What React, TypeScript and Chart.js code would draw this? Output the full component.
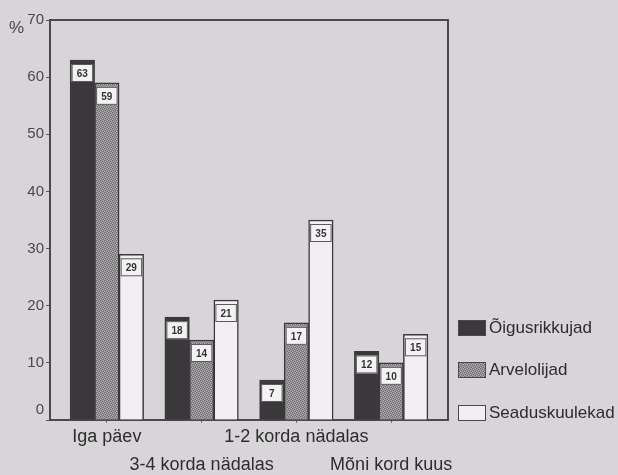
import React, { useEffect, useRef } from 'react';
import { Chart, registerables } from 'chart.js';

Chart.register(...registerables);

const categories = ['Iga päev', '3-4 korda nädalas', '1-2 korda nädalas', 'Mõni kord kuus'];
const seriesNames = ['Õigusrikkujad', 'Arvelolijad', 'Seaduskuulekad'];
const oigusrikkujad = [63, 18, 7, 12];
const arvelolijad = [59, 14, 17, 10];
const seaduskuulekad = [29, 21, 35, 15];
const yMin = 0;
const yMax = 70;
const yStep = 10;

const BG = '#d7d5d7';
const INK = '#3a383a';
const FONT = '"Liberation Sans", Arial, Helvetica, sans-serif';

function makeStipple(): CanvasPattern | string {
  const c = document.createElement('canvas');
  c.width = 4;
  c.height = 4;
  const g = c.getContext('2d');
  if (!g) return '#8e8c8e';
  g.fillStyle = '#908e90';
  g.fillRect(0, 0, 4, 4);
  g.fillStyle = '#6c6a6c';
  [[0, 0], [2, 1], [1, 2], [3, 3]].forEach(([x, y]) => g.fillRect(x, y, 1, 1));
  g.fillStyle = '#b2b0b2';
  [[2, 2], [0, 3], [3, 0], [1, 1]].forEach(([x, y]) => g.fillRect(x, y, 1, 1));
  return g.createPattern(c, 'repeat') || '#8e8c8e';
}

export default function App() {
  const ref = useRef<HTMLCanvasElement | null>(null);

  useEffect(() => {
    if (!ref.current) return;
    const stipple = makeStipple();
    const fills = [INK, stipple, '#f1eff1'];
    const values = [oigusrikkujad, arvelolijad, seaduskuulekad];

    const decor = {
      id: 'decor',
      beforeDraw(chart: any) {
        const ctx = chart.ctx;
        ctx.save();
        ctx.fillStyle = BG;
        ctx.fillRect(0, 0, chart.width, chart.height);
        ctx.restore();
      },
      afterDatasetsDraw(chart: any) {
        const ctx = chart.ctx;
        ctx.save();
        chart.data.datasets.forEach((ds: any, di: number) => {
          const meta = chart.getDatasetMeta(di);
          meta.data.forEach((el: any, i: number) => {
            const w = el.width;
            const x0 = el.x - w / 2 + 1.5;
            const y0 = el.y + 4;
            const bw = w - 3;
            const bh = 18;
            ctx.fillStyle = '#f3f1f3';
            ctx.fillRect(x0, y0, bw, bh);
            ctx.strokeStyle = '#5a585a';
            ctx.lineWidth = 1;
            ctx.strokeRect(x0 + 0.5, y0 + 0.5, bw - 1, bh - 1);
            ctx.fillStyle = '#333';
            ctx.font = `bold 10px ${FONT}`;
            ctx.textAlign = 'center';
            ctx.textBaseline = 'middle';
            ctx.fillText(String(ds.data[i].y), el.x, y0 + bh / 2 + 1);
          });
        });
        ctx.restore();
      },
      afterDraw(chart: any) {
        const ctx = chart.ctx;
        const a = chart.chartArea;
        const ys = chart.scales.y;
        ctx.save();
        ctx.strokeStyle = '#4a484a';
        ctx.lineWidth = 2;
        ctx.beginPath();
        ctx.moveTo(a.left, a.top);
        ctx.lineTo(a.right, a.top);
        ctx.lineTo(a.right, a.bottom);
        ctx.stroke();

        ctx.fillStyle = '#4a484a';
        ctx.font = `17px ${FONT}`;
        ctx.textAlign = 'left';
        ctx.textBaseline = 'middle';
        ctx.fillText('%', 9, ys.getPixelForValue(yMax) + 8);

        ctx.font = `15px ${FONT}`;
        ctx.textAlign = 'right';
        ctx.fillText(String(yMin), a.left - 6, ys.getPixelForValue(yMin) - 10);

        // legend
        const lx = a.right + 10;
        const rowY = [328, 370, 413];
        seriesNames.forEach((name, i) => {
          const cy = rowY[i];
          ctx.fillStyle = fills[i] as any;
          ctx.fillRect(lx, cy - 8, 28, 16);
          ctx.strokeStyle = '#4a484a';
          ctx.lineWidth = 1;
          ctx.strokeRect(lx + 0.5, cy - 7.5, 27, 15);
          ctx.fillStyle = '#2e2c2e';
          ctx.font = `17px ${FONT}`;
          ctx.textAlign = 'left';
          ctx.textBaseline = 'middle';
          ctx.fillText(name, lx + 31, cy);
        });
        ctx.restore();
      },
    };

    const chart = new Chart(ref.current, {
      type: 'bar',
      data: {
        datasets: seriesNames.map((name, di) => ({
          label: name,
          data: values[di].map((v, i) => ({ x: i, y: v })),
          backgroundColor: fills[di] as any,
          borderColor: '#3a383a',
          borderWidth: 1.5,
          borderSkipped: 'bottom' as const,
          barThickness: 24.5,
        })),
      },
      options: {
        animation: false,
        responsive: false,
        maintainAspectRatio: false,
        layout: { padding: { top: 20, right: 170, left: 0, bottom: 0 } },
        plugins: { legend: { display: false }, tooltip: { enabled: false } },
        scales: {
          x: {
            type: 'linear',
            min: -0.6,
            max: 3.6,
            offset: false,
            afterBuildTicks: (scale: any) => {
              scale.ticks = categories.map((_, i) => ({ value: i }));
            },
            afterFit: (scale: any) => {
              scale.height = 55;
            },
            grid: {
              display: true,
              offset: false,
              drawOnChartArea: false,
              drawTicks: true,
              tickLength: 3,
              tickColor: '#6a686a',
            },
            border: { display: true, color: '#4a484a', width: 2 },
            ticks: {
              autoSkip: false,
              maxRotation: 0,
              padding: 0,
              color: '#2e2c2e',
              font: { family: FONT, size: 18, lineHeight: 1.556 },
              callback: (v: any) => {
                const i = Math.round(Number(v));
                const t = categories[i] ?? '';
                return i % 2 === 0 ? [t, ''] : ['', t];
              },
            },
          },
          y: {
            min: yMin,
            max: yMax,
            afterFit: (scale: any) => {
              scale.width = 50;
            },
            grid: {
              display: true,
              drawOnChartArea: false,
              drawTicks: true,
              tickLength: 4,
              tickColor: '#5a585a',
            },
            border: { display: true, color: '#4a484a', width: 2 },
            ticks: {
              stepSize: yStep,
              padding: 2,
              color: '#4a484a',
              font: { family: FONT, size: 15 },
              callback: (v: any) => (Number(v) === yMin ? '' : String(v)),
            },
          },
        },
      },
      plugins: [decor],
    });

    return () => chart.destroy();
  }, []);

  return (
    <div style={{ position: 'fixed', left: 0, top: 0, width: 618, height: 475, background: BG }}>
      <canvas ref={ref} width={618} height={475} style={{ width: 618, height: 475, display: 'block' }} />
    </div>
  );
}
